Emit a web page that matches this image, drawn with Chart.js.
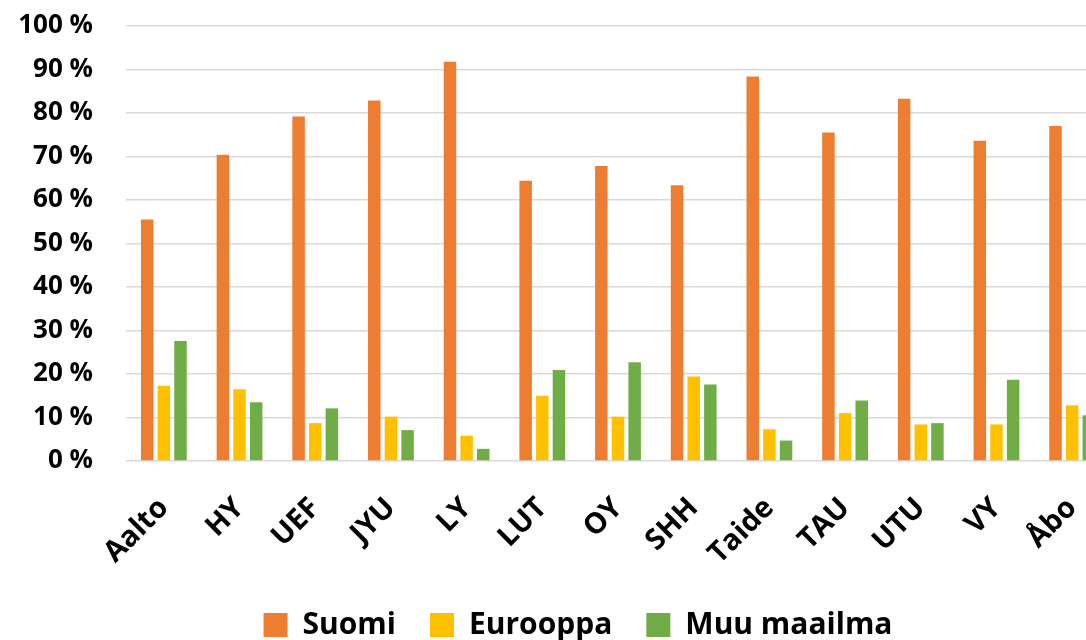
<!DOCTYPE html>
<html>
<head>
<meta charset="utf-8">
<script src="https://cdn.jsdelivr.net/npm/chart.js@4.4.1/dist/chart.umd.min.js"></script>
<style>
  html, body { margin: 0; padding: 0; background: #fff; overflow: hidden; }
  #wrap { width: 1136px; height: 640px; }
</style>
</head>
<body>
<div id="wrap"><canvas id="UNICHART" width="1136" height="640"></canvas></div>
<script>
const categories = ['Aalto', 'HY', 'UEF', 'JYU', 'LY', 'LUT', 'OY', 'SHH', 'Taide', 'TAU', 'UTU', 'VY', 'Åbo'];
const suomi    = [55.5, 70.4, 79.2, 82.9, 91.8, 64.4, 67.8, 63.4, 88.4, 75.5, 83.3, 73.6, 77.0];
const eurooppa = [17.3, 16.5, 8.7, 10.2, 5.8, 15.0, 10.2, 19.4, 7.3, 11.0, 8.4, 8.4, 12.8];
const muu      = [27.6, 13.5, 12.1, 7.1, 2.8, 20.9, 22.7, 17.6, 4.7, 13.9, 8.7, 18.7, 10.5];
const yTicks   = [0, 10, 20, 30, 40, 50, 60, 70, 80, 90, 100];

function define() {

    let ctx = document.getElementById('UNICHART');
    const font = 'Open Sans';

    let uni_chart = new Chart(ctx, {
        type: 'bar',
        data: {
            labels: categories,
            datasets: [{
                label: 'Suomi',
                data: suomi,
                backgroundColor: '#ED7D31'
            }, {
                label: 'Eurooppa',
                data: eurooppa,
                backgroundColor: '#FFC000'
            }, {
                label: 'Muu maailma',
                data: muu,
                backgroundColor: '#70AD47'
            }]
        },
        options: {
            responsive: false,
            animation: false,
            categoryPercentage: 0.66,
            barPercentage: 0.75,
            layout: {
                padding: { left: 20, right: 0, top: 26, bottom: -10 }
            },
            scales: {
                x: {
                    grid: { display: false },
                    border: { display: false },
                    ticks: {
                        minRotation: 45,
                        maxRotation: 45,
                        padding: 22,
                        color: '#000',
                        font: { family: font, size: 29, weight: 'bold' }
                    },
                    // picture is cropped on the right, so the plot runs past the edge
                    afterFit: s => { s.paddingLeft = 0; s.paddingRight = 26; s.height = 115; }
                },
                y: {
                    min: 0,
                    max: 100,
                    afterBuildTicks: axis => { axis.ticks = yTicks.map(v => ({ value: v })); },
                    afterFit: s => { s.paddingTop = 0; s.paddingBottom = 0; s.width = 106; },
                    grid: { color: '#D9D9D9', lineWidth: 1.5, drawTicks: false },
                    border: { display: false },
                    ticks: {
                        padding: 33,
                        color: '#000',
                        font: { family: font, size: 26, weight: 'bold' },
                        callback: v => v + ' %'
                    }
                }
            },
            plugins: {
                legend: {
                    position: 'bottom',
                    labels: {
                        boxWidth: 24,
                        boxHeight: 24,
                        padding: 34,
                        color: '#000',
                        font: { family: font, size: 30, weight: 'bold' }
                    }
                },
                tooltip: { enabled: false }
            }
        }
    });

    return uni_chart
}

// make sure the font is measured for real before layout
Promise.all([
    document.fonts.load('bold 26px "Open Sans"'),
    document.fonts.load('bold 30px "Open Sans"')
]).catch(() => {}).then(() => define());
</script>
</body>
</html>
